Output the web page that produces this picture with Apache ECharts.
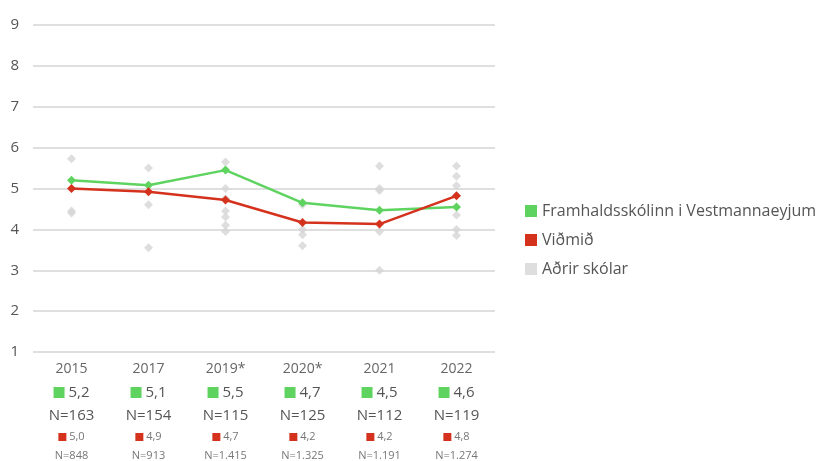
<!DOCTYPE html>
<html>
<head>
<meta charset="utf-8">
<script src="https://cdn.jsdelivr.net/npm/echarts@6/dist/echarts.min.js"></script>
<style>
html, body { margin: 0; padding: 0; background: #fff; }
#chart { width: 824px; height: 461px; }
</style>
</head>
<body>
<div id="chart"></div>
<script>
// ár
const years = ['2015', '2017', '2019*', '2020*', '2021', '2022']
// skólinn sjálfur
const schoolVals = [5.2, 5.08, 5.45, 4.65, 4.47, 4.55]
const schoolText = ['5,2', '5,1', '5,5', '4,7', '4,5', '4,6']
const schoolN = ['163', '154', '115', '125', '112', '119']
// viðmið
const refVals = [5.0, 4.92, 4.72, 4.17, 4.13, 4.82]
const refText = ['5,0', '4,9', '4,7', '4,2', '4,2', '4,8']
const refN = ['848', '913', '1.415', '1.325', '1.191', '1.274']
// aðrir skólar, eitt fylki fyrir hvert ár
const otherVals = [
  [5.73, 4.45, 4.4],
  [5.5, 4.6, 3.55],
  [5.65, 5.0, 4.75, 4.45, 4.3, 4.1, 3.95],
  [4.6, 4.0, 3.87, 3.6],
  [5.55, 5.0, 4.95, 3.95, 3.0],
  [5.55, 5.3, 5.07, 4.35, 4.0, 3.85]
]
const yTicks = [1, 9]

const GREEN = '#5fd35f'
const RED = '#d4321d'
const GREY = '#d6d6d6'
const FONT = 'Open Sans'

let otherPoints = []
otherVals.forEach((arr, i) => {
  arr.forEach(v => otherPoints.push([i, v]))
})

let myChart = echarts.init(document.getElementById('chart'))
let option = {
  animation: false,
  textStyle: { fontFamily: FONT },
  grid: {
    left: 33,
    right: 329,
    top: 25,
    bottom: 108
  },
  legend: {
    orient: 'vertical',
    left: 520,
    top: 198,
    itemWidth: 12,
    itemHeight: 12,
    itemGap: 13,
    icon: 'rect',
    textStyle: { fontSize: 16, color: '#555', fontFamily: FONT },
    data: ['Framhaldsskólinn i Vestmannaeyjum', 'Viðmið', 'Aðrir skólar']
  },
  xAxis: {
    type: 'category',
    data: years,
    axisLine: { show: false },
    axisTick: { show: false },
    axisLabel: {
      margin: 5,
      interval: 0,
      formatter: (val, idx) => {
        return '{y|' + val + '}\n' +
          '{g|}{v| ' + schoolText[idx] + '}\n' +
          '{n|N=' + schoolN[idx] + '}\n' +
          '{r|}{s| ' + refText[idx] + '}\n' +
          '{t|N=' + refN[idx] + '}'
      },
      rich: {
        y: { fontSize: 14, color: '#666', lineHeight: 24, fontFamily: FONT },
        g: { backgroundColor: GREEN, width: 11, height: 11 },
        v: { fontSize: 15, color: '#555', lineHeight: 23, fontFamily: FONT },
        n: { fontSize: 15, color: '#555', lineHeight: 23, fontFamily: FONT },
        r: { backgroundColor: RED, width: 8, height: 8 },
        s: { fontSize: 11, color: '#777', lineHeight: 20, fontFamily: FONT },
        t: { fontSize: 11, color: '#777', lineHeight: 17, fontFamily: FONT }
      }
    }
  },
  yAxis: {
    type: 'value',
    min: yTicks[0],
    max: yTicks[1],
    interval: 1,
    axisLine: { show: false },
    axisTick: { show: false },
    axisLabel: { fontSize: 15, color: '#555', margin: 14, fontFamily: FONT },
    splitLine: { lineStyle: { color: '#d4d4d4', width: 1.5 } }
  },
  series: [{
    name: 'Aðrir skólar',
    type: 'scatter',
    symbol: 'diamond',
    symbolSize: 9,
    itemStyle: { color: GREY },
    data: otherPoints,
    z: 1
  }, {
    name: 'Viðmið',
    type: 'line',
    symbol: 'diamond',
    symbolSize: 9,
    color: RED,
    lineStyle: { width: 2.5, color: RED },
    itemStyle: { color: RED },
    data: refVals,
    z: 3
  }, {
    name: 'Framhaldsskólinn i Vestmannaeyjum',
    type: 'line',
    symbol: 'diamond',
    symbolSize: 9,
    color: GREEN,
    lineStyle: { width: 2.5, color: GREEN },
    itemStyle: { color: GREEN },
    data: schoolVals,
    z: 2
  }]
}
myChart.setOption(option)
</script>
</body>
</html>
